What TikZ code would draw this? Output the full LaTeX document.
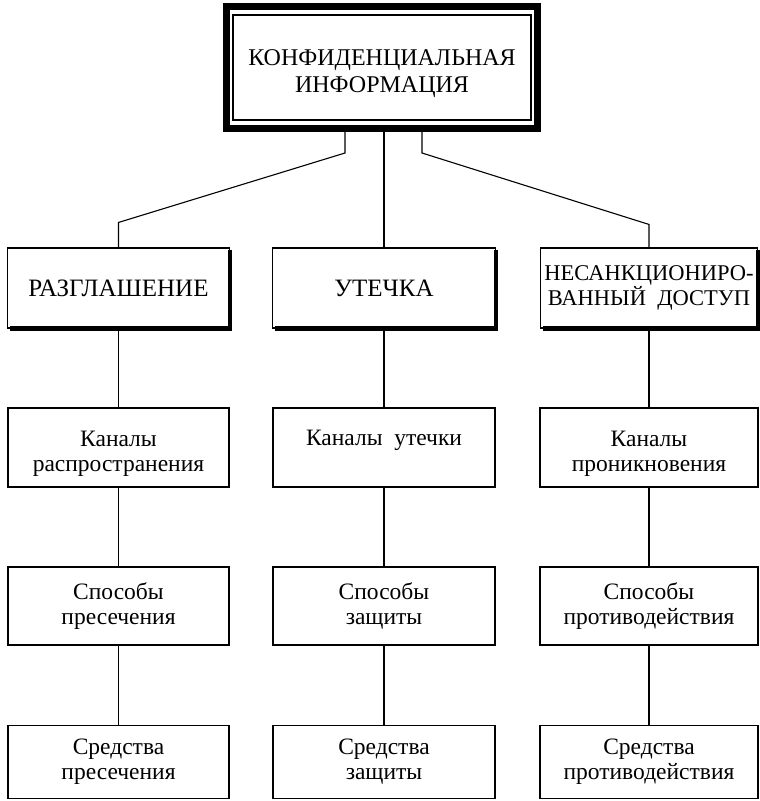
\documentclass[tikz,border=0pt]{standalone}
\usepackage{fontspec}
\setmainfont{Liberation Serif}
\usetikzlibrary{calc}
\begin{document}
\begin{tikzpicture}[x=1pt,y=-1pt,line width=1.1pt,
  capsfont/.style={font=\fontsize{25}{26}\selectfont},
  topfont/.style={font=\fontsize{24}{27}\selectfont},
  narrowcaps/.style={font=\fontsize{22.5}{23}\selectfont},
  lowfont/.style={font=\fontsize{23.5}{25}\selectfont},
  mainbox/.style={draw,line width=7pt,minimum width=311pt,minimum height=122pt,inner sep=0pt},
  catbox/.style={draw,minimum height=80pt,inner sep=0pt,align=center,capsfont},
  subbox/.style={draw,inner sep=0pt,align=center,lowfont},
  link/.style={line width=1.1pt},
  shadowline/.style={line width=4.5pt}]
\useasboundingbox (0,0) rectangle (760,801);
% top
\node[mainbox,label={[topfont,align=center,yshift=-6pt]center:КОНФИДЕНЦИАЛЬНАЯ\\ИНФОРМАЦИЯ}] (top) at (382,67.5) {};
\draw ($(top.north west)+(10,12)$) rectangle ($(top.south east)+(-10,-12)$);
% level 2
\node[catbox,minimum width=222pt] (razgl) at (118.5,288) {РАЗГЛАШЕНИЕ};
\node[catbox,minimum width=223pt] (utech) at (384,288) {УТЕЧКА};
\node[catbox,narrowcaps,minimum width=217pt] (nesank) at (649,288) {НЕСАНКЦИОНИРО-\\ВАННЫЙ\ \ ДОСТУП};
\foreach \n in {razgl,utech,nesank}{
  \draw[shadowline] ($(\n.north east)+(0,3)$) -- (\n.south east) -- ($(\n.south west)+(3,0)$);
}
% level 3
\node[subbox,minimum width=221pt,minimum height=79pt,
  label={[lowfont,align=center,yshift=-6.5pt]center:Каналы\\распространения}] (k1) at (118.5,447.5) {};
\node[subbox,minimum width=222pt,minimum height=79pt,
  label={[lowfont,yshift=7pt]center:Каналы\ \ утечки}] (k2) at (384,447.5) {};
\node[subbox,minimum width=218pt,minimum height=79pt,
  label={[lowfont,align=center,yshift=-6.5pt]center:Каналы\\проникновения}] (k3) at (649,447.5) {};
% level 4
\node[subbox,minimum width=221pt,minimum height=78pt] (s1) at (118.5,606) {Способы\\пресечения};
\node[subbox,minimum width=222pt,minimum height=78pt] (s2) at (384,606) {Способы\\защиты};
\node[subbox,minimum width=218pt,minimum height=78pt] (s3) at (649,606) {Способы\\противодействия};
% level 5
\node[subbox,minimum width=221pt,minimum height=73pt] (m1) at (118.5,762) {Средства\\пресечения};
\node[subbox,minimum width=222pt,minimum height=73pt] (m2) at (384,762) {Средства\\защиты};
\node[subbox,minimum width=218pt,minimum height=73pt] (m3) at (649,762) {Средства\\противодействия};
% connectors from top
\draw[link] ([xshift=-37pt]top.south) -- ++(0,21) -- ($(razgl.north)+(0,-25)$) -- (razgl.north);
\draw[link] (top.south -| utech.north) -- (utech.north);
\draw[link] ([xshift=40pt]top.south) -- ++(0,21) -- ($(nesank.north)+(0,-23)$) -- (nesank.north);
% columns
\foreach \a/\b in {razgl/k1,k1/s1,s1/m1,utech/k2,k2/s2,s2/m2,nesank/k3,k3/s3,s3/m3}{
  \draw[link] (\a.south) -- (\b.north);
}
\end{tikzpicture}
\end{document}
